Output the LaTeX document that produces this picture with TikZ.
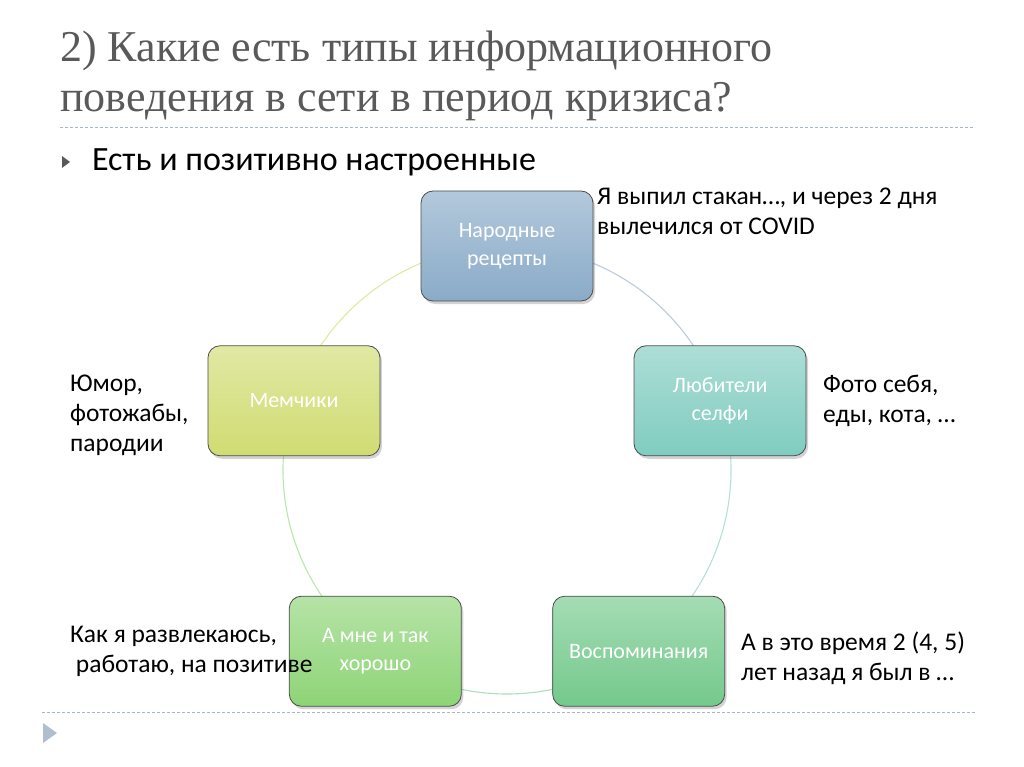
\documentclass[tikz,border=0pt]{standalone}
\usepackage{fontspec}
\setmainfont{Liberation Serif}
\newfontfamily\bodyfont{Carlito}
\usepackage{xcolor}
\usetikzlibrary{calc,shadows,backgrounds,positioning}

\definecolor{titlegray}{HTML}{595959}
\definecolor{rulegray}{HTML}{A6B8C8}
\definecolor{recipeblue}{HTML}{8AABC8}
\definecolor{selfieteal}{HTML}{80CCC0}
\definecolor{memorygreen}{HTML}{74C98C}
\definecolor{finegreen}{HTML}{8ED477}
\definecolor{memeyellow}{HTML}{D0DC72}

\begin{document}
\begin{tikzpicture}[x=1pt, y=-1pt,
    catbox/.style={draw=gray!60!black, line width=0.8pt, rounded corners=12pt,
                   minimum width=172pt, minimum height=110pt, align=center,
                   text=white, font=\bodyfont\fontsize{22}{28}\selectfont,
                   drop shadow={shadow xshift=2pt, shadow yshift=-3pt, opacity=0.35}},
    note/.style={align=left, inner sep=0pt, anchor=north west,
                 font=\bodyfont\fontsize{25.5}{30}\selectfont},
    ring/.style={line width=1.1pt},
    sep/.style={rulegray, line width=0.8pt, dash pattern=on 3pt off 2pt}
  ]
    \useasboundingbox (0,0) rectangle (1024,767);

    % title and bullet
    \node[anchor=north west, inner sep=0pt, align=left, text=titlegray,
          font=\fontsize{44}{50}\selectfont] (title) at (60,31)
      {2) Какие есть типы информационного\\поведения в сети в период кризиса?};
    \draw[sep] (60,127) -- (975,127);
    \fill[gray!70!black] (62,156) -- (70,162) -- (62,168) -- cycle;
    \node[anchor=west, inner sep=0pt, font=\bodyfont\fontsize{34}{40}\selectfont]
      (lead) at (92,162) {Есть и позитивно настроенные};

    % cycle of boxes
    \coordinate (ctr) at (507,470);
    \node[catbox, top color=recipeblue!65!white, bottom color=recipeblue]
      (recipes) at ($(ctr)+(90:224pt)$) {Народные\\рецепты};
    \node[catbox, top color=selfieteal!65!white, bottom color=selfieteal]
      (selfie) at ($(ctr)+(18:224pt)$) {Любители\\селфи};
    \node[catbox, top color=memorygreen!65!white, bottom color=memorygreen]
      (memory) at ($(ctr)+(-54:224pt)$) {Воспоминания};
    \node[catbox, top color=finegreen!65!white, bottom color=finegreen]
      (fine) at ($(ctr)+(-126:224pt)$) {А мне и так\\хорошо};
    \node[catbox, top color=memeyellow!65!white, bottom color=memeyellow]
      (memes) at ($(ctr)+(162:224pt)$) {Мемчики};

    \begin{pgfonlayer}{background}
      \draw[ring, recipeblue!60] (recipes.center) arc[start angle=90, end angle=18, radius=224pt];
      \draw[ring, selfieteal!60] (selfie.center) arc[start angle=18, end angle=-54, radius=224pt];
      \draw[ring, memorygreen!60] (memory.center) arc[start angle=-54, end angle=-126, radius=224pt];
      \draw[ring, finegreen!60] (fine.center) arc[start angle=-126, end angle=-198, radius=224pt];
      \draw[ring, memeyellow!65] (memes.center) arc[start angle=-198, end angle=-270, radius=224pt];
    \end{pgfonlayer}

    % notes
    \node[note] (recipenote) at (597,188) {Я выпил стакан…, и через 2 дня\\вылечился от COVID};
    \node[note] (selfienote) at (823,375) {Фото себя,\\еды, кота, …};
    \node[note] (memenote) at (70,375) {Юмор,\\фотожабы,\\пародии};
    \node[note] (finenote) at (70,626) {Как я развлекаюсь,\\\ работаю, на позитиве};
    \node[note] (memorynote) at (741,632) {А в это время 2 (4, 5)\\лет назад я был в …};

    \draw[sep] (42,712) -- (975,712);
    \fill[rulegray!90] (43,723) -- (57,733) -- (43,743) -- cycle;
  \end{tikzpicture}
\end{document}
